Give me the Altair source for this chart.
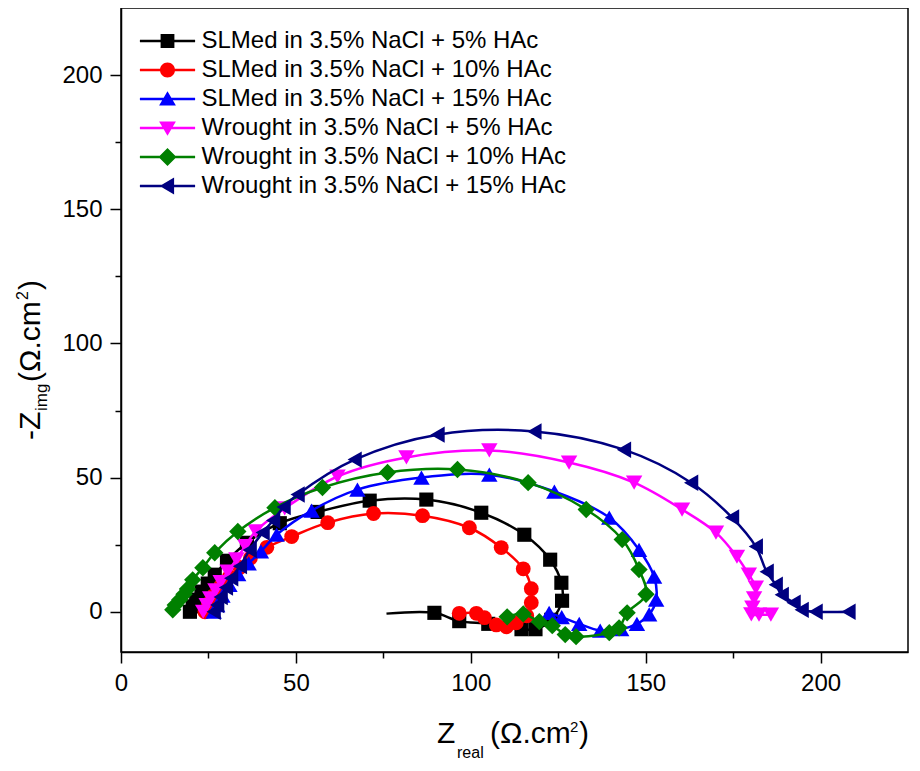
import altair as alt
import pandas as pd

series = [
    "SLMed in 3.5% NaCl + 5% HAc",
    "SLMed in 3.5% NaCl + 10% HAc",
    "SLMed in 3.5% NaCl + 15% HAc",
    "Wrought in 3.5% NaCl + 5% HAc",
    "Wrought in 3.5% NaCl + 10% HAc",
    "Wrought in 3.5% NaCl + 15% HAc",
]
colors = ["#000000", "#FF0000", "#0000FF", "#FF00FF", "#008000", "#000080"]
shapes = ["square", "circle", "triangle-up", "triangle-down", "diamond", "triangle-left"]
marker_sizes = [200, 220, 270, 270, 300, 270]
# the black series' last (lowest-frequency) point is drawn as line only
line_only_tail = [True, False, False, False, False, False]

# SLMed 5% HAc
x_slm5 = [19.7, 20.5, 21.5, 23.0, 24.8, 26.8, 30.3, 36.0, 45.4, 56.2, 71.1, 87.3, 103.0, 115.3,
          122.7, 125.9, 126.1, 123.0, 118.5, 114.5, 105.0, 96.7, 89.6, 75.9]
y_slm5 = [0.0, 2.0, 4.5, 7.5, 10.5, 13.8, 19.0, 25.7, 33.0, 37.2, 41.4, 41.8, 36.9, 28.7,
          19.4, 10.8, 4.1, -3.0, -6.5, -6.5, -4.5, -3.5, -0.4, -0.7]
# SLMed 10% HAc
x_slm10 = [24.0, 25.0, 26.5, 28.5, 31.0, 34.0, 37.0, 41.7, 48.8, 59.1, 72.2, 86.2, 99.6, 108.7,
           115.0, 117.3, 117.3, 116.0, 113.0, 110.2, 107.3, 103.9, 101.6, 96.7]
y_slm10 = [0.0, 3.0, 6.0, 9.5, 13.0, 16.5, 20.0, 24.0, 28.0, 33.2, 36.6, 35.8, 31.3, 23.9,
           16.0, 8.6, 3.4, -1.5, -4.1, -5.6, -4.9, -2.2, -0.6, -0.6]
# SLMed 15% HAc
x_slm15 = [26.5, 27.5, 29.0, 31.0, 33.5, 36.5, 40.0, 44.5, 54.5, 67.6, 85.9, 105.3, 123.9, 139.6,
           148.1, 152.4, 153.0, 151.0, 147.5, 143.0, 137.0, 131.0, 126.0, 122.4]
y_slm15 = [0.0, 2.5, 6.0, 10.0, 14.0, 18.0, 22.5, 28.7, 37.7, 45.5, 50.0, 51.1, 44.8, 35.1,
           23.1, 13.1, 4.5, -1.0, -4.5, -6.5, -7.0, -4.5, -2.0, -0.4]
# Wrought 5% HAc
x_wr5 = [23.5, 24.5, 25.5, 27.0, 28.5, 30.5, 33.0, 35.5, 38.5, 46.8, 61.9, 81.6, 105.3, 128.1,
         146.7, 160.4, 170.1, 176.1, 179.5, 181.5, 181.0, 180.5, 180.2, 182.4, 185.8]
y_wr5 = [0.0, 2.5, 5.0, 8.0, 11.0, 15.0, 19.5, 24.5, 30.0, 38.5, 50.4, 57.5, 60.1, 55.6,
         48.1, 38.1, 29.5, 20.5, 13.8, 9.0, 5.0, 1.5, -1.0, -1.1, -1.1]
# Wrought 10% HAc
x_wr10 = [14.8, 15.5, 16.8, 18.0, 19.0, 20.5, 23.4, 26.8, 33.4, 44.0, 57.6, 76.2, 96.2, 116.4,
          133.0, 143.3, 148.1, 150.1, 144.7, 142.4, 139.6, 130.1, 127.0, 123.3, 119.6, 115.0, 110.4]
y_wr10 = [0.7, 2.5, 4.5, 6.5, 8.5, 11.9, 16.4, 22.0, 29.9, 38.8, 46.3, 51.9, 53.0, 48.1,
          38.1, 26.9, 15.7, 6.5, -0.4, -6.0, -7.8, -9.3, -8.5, -5.2, -3.7, -0.8, -1.9]
# Wrought 15% HAc
x_wr15 = [26.5, 27.5, 28.5, 30.0, 31.5, 34.0, 36.8, 40.5, 43.5, 46.5, 50.5, 66.8, 90.5, 118.2,
          143.8, 163.0, 174.7, 181.5, 184.6, 187.2, 188.9, 192.3, 194.6, 198.6, 208.0]
y_wr15 = [0.0, 2.5, 5.5, 9.0, 12.5, 17.0, 23.0, 29.5, 34.0, 39.0, 43.7, 56.7, 66.0, 67.2,
          60.4, 48.1, 35.1, 24.3, 14.9, 10.1, 6.3, 3.4, 0.7, 0.0, 0.0]

xs = [x_slm5, x_slm10, x_slm15, x_wr5, x_wr10, x_wr15]
ys = [y_slm5, y_slm10, y_slm15, y_wr5, y_wr10, y_wr15]

x_ticks = [0, 25, 50, 75, 100, 125, 150, 175, 200]
y_ticks = [0, 25, 50, 75, 100, 125, 150, 175, 200]

FONT = "Liberation Sans"

rows = []
for s, xv, yv in zip(series, xs, ys):
    for i, (a, b) in enumerate(zip(xv, yv)):
        rows.append({"series": s, "zr": a, "zi": b, "idx": i})
df = pd.DataFrame(rows)

tick_cond = {"condition": {"test": "datum.value % 50 === 0", "value": 11}, "value": 6}
label_expr = "datum.value % 50 === 0 ? datum.label : ''"


def make_axis():
    return alt.Axis(values=x_ticks, labelExpr=label_expr, tickSize=tick_cond, title=None,
                    labelFont=FONT, labelFontSize=24, labelColor="black", tickColor="black",
                    domainColor="black", tickWidth=1.5, domainWidth=1.5, labelPadding=8,
                    grid=False, labelFlush=False, labelOverlap=False)


x_axis = make_axis()
y_axis = make_axis()
y_axis.values = y_ticks

X = alt.X("zr:Q", scale=alt.Scale(domain=[0, 225], nice=False, zero=False), axis=x_axis)
Y = alt.Y("zi:Q", scale=alt.Scale(domain=[-15, 225], nice=False, zero=False), axis=y_axis)

layers = []
for s, c, sh, sz, tail in zip(series, colors, shapes, marker_sizes, line_only_tail):
    sub = df[df["series"] == s]
    layers.append(alt.Chart(sub).mark_line(color=c, strokeWidth=2.5, interpolate="catmull-rom",
                                           clip=True).encode(x=X, y=Y, order="idx:Q"))
    pts = sub.iloc[:-1] if tail else sub
    layers.append(alt.Chart(pts).mark_point(shape=sh, filled=True, color=c, size=sz, opacity=1,
                                            clip=True).encode(x=X, y=Y))

# legend symbols: line + marker (custom paths, unit = sqrt(size)/2 px)
LINE = "M-4.6,-0.21H4.6V0.21H-4.6Z "
legend_paths = [
    LINE + "M-1.15,-1.15H1.15V1.15H-1.15Z",
    LINE + "M-1.25,0A1.25,1.25,0,0,1,1.25,0A1.25,1.25,0,0,1,-1.25,0Z",
    LINE + "M0,-1.3L1.4,1.1L-1.4,1.1Z",
    LINE + "M0,1.3L-1.4,-1.1L1.4,-1.1Z",
    LINE + "M0,-1.5L1.5,0L0,1.5L-1.5,0Z",
    LINE + "M-1.3,0L1.1,-1.4L1.1,1.4Z",
]

leg_def = dict(title=None, orient="none", legendX=19, legendY=21, padding=0,
               labelFont=FONT, labelFontSize=24, labelColor="black", labelLimit=0,
               symbolSize=144, symbolStrokeWidth=0, symbolOffset=15.5, labelOffset=22,
               rowPadding=5, symbolOpacity=1)

legend_layer = alt.Chart(df).transform_filter("datum.zr < -1000").mark_point(
    filled=True, opacity=1).encode(
    color=alt.Color("series:N", scale=alt.Scale(domain=series, range=colors),
                    legend=alt.Legend(**leg_def)),
    shape=alt.Shape("series:N", scale=alt.Scale(domain=series, range=legend_paths),
                    legend=alt.Legend(**leg_def)),
)
layers.append(legend_layer)


def txt(t, x, y, size, angle=0):
    d = pd.DataFrame({"t": [t]})
    return alt.Chart(d).mark_text(font=FONT, fontSize=size, align="left", baseline="alphabetic",
                                  angle=angle, color="black").encode(
        text="t:N", x=alt.value(x), y=alt.value(y))


# x-axis title: Z_real (Ω.cm²)
layers += [
    txt("Z", 316, 735, 30),
    txt("real", 336, 750, 16),
    txt("(Ω.cm", 369, 735, 30),
    txt("2", 449, 724, 15),
    txt(")", 458, 735, 30),
]
# y-axis title: -Z_img (Ω.cm²), rotated
layers += [
    txt("-Z", -81, 432, 30, 270),
    txt("img", -74, 403, 17, 270),
    txt("(Ω.cm", -81, 374, 30, 270),
    txt("2", -93, 292, 16, 270),
    txt(")", -81, 282, 30, 270),
]

chart = alt.layer(*layers).properties(
    width=787, height=644,
    padding={"left": 113, "top": 0, "right": 4, "bottom": 111},
    autosize=alt.AutoSizeParams(type="none"),
).configure_view(stroke="black", strokeWidth=1.5)

chart.save("out.html", embed_options={"renderer": "svg", "actions": False})
